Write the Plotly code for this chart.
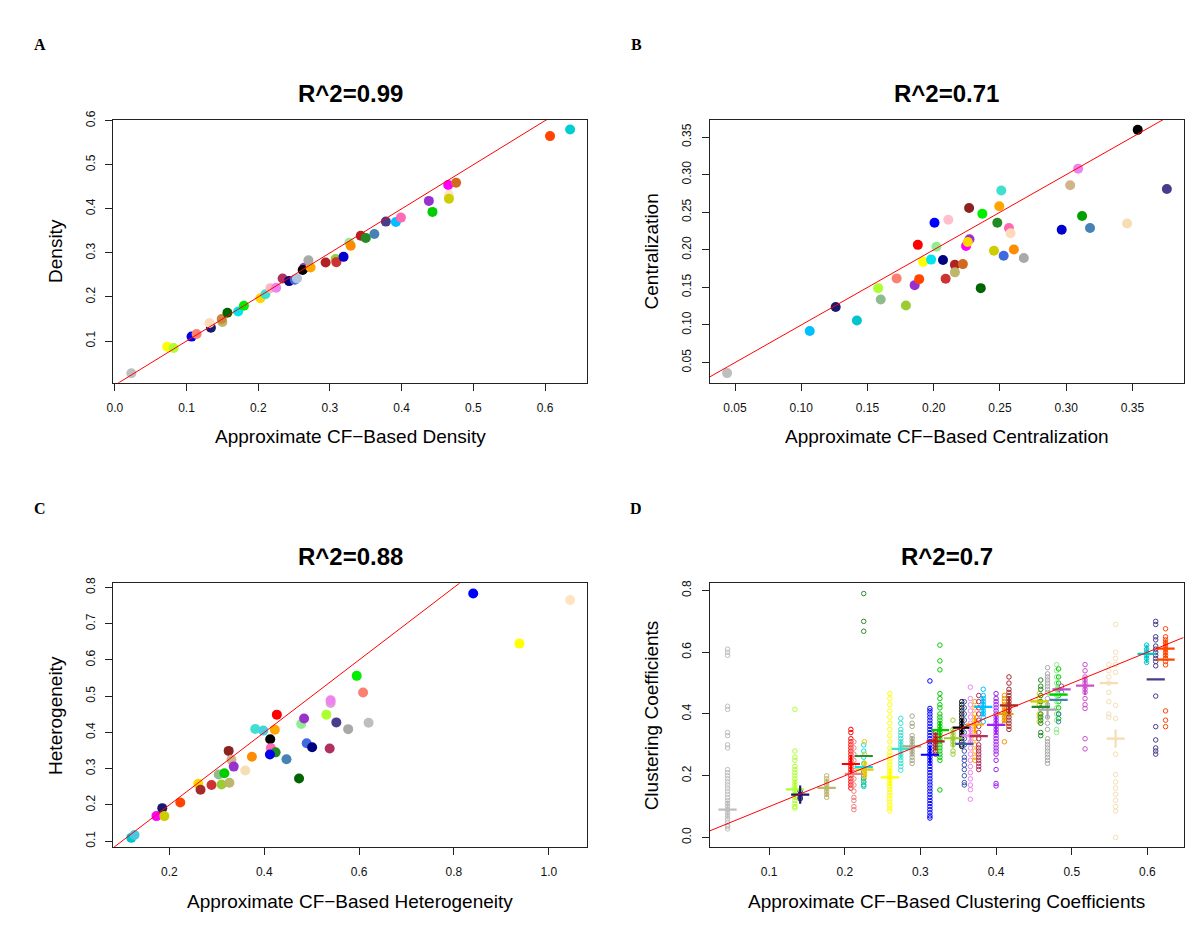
import plotly.graph_objects as go

# ---------------- Panel A : Density ----------------
a_x = [0.023, 0.073, 0.082, 0.107, 0.114, 0.134, 0.132, 0.150, 0.149, 0.157, 0.172, 0.180, 0.203, 0.210,
       0.217, 0.225, 0.234, 0.243, 0.251, 0.254, 0.264, 0.262, 0.273, 0.270, 0.294, 0.308, 0.309, 0.319,
       0.327, 0.329, 0.343, 0.350, 0.362, 0.378, 0.392, 0.399, 0.438, 0.443, 0.465, 0.476, 0.466, 0.466,
       0.607, 0.635]
a_y = [0.027, 0.087, 0.084, 0.110, 0.116, 0.130, 0.141, 0.143, 0.150, 0.164, 0.167, 0.180, 0.197, 0.206,
       0.220, 0.221, 0.242, 0.236, 0.239, 0.242, 0.266, 0.261, 0.267, 0.283, 0.278, 0.286, 0.279, 0.291,
       0.323, 0.316, 0.339, 0.334, 0.343, 0.371, 0.370, 0.380, 0.418, 0.393, 0.454, 0.459, 0.432, 0.423,
       0.565, 0.580]
a_col = ["#bfbfbf", "#ffff00", "#adff2f", "#0000ee", "#fa8072", "#191970", "#ffdab9", "#bdb76b", "#cd853f",
         "#006400", "#00e5ee", "#00ee00", "#ffd700", "#40e0d0", "#ffb6c1", "#ee82ee", "#b03060", "#000080",
         "#4169e1", "#b0c4de", "#9932cc", "#000000", "#ffa500", "#a9a9a9", "#b22222", "#9acd32", "#cd3333",
         "#0000cd", "#90ee90", "#ff8c00", "#b22222", "#228b22", "#4682b4", "#483d8b", "#00bfff", "#ff69b4",
         "#9932cc", "#00cd00", "#ff00ff", "#d2691e", "#ffe4c4", "#cdcd00", "#ff4500", "#00ced1"]

# ---------------- Panel B : Centralization ----------------
b_x = [0.044, 0.1064, 0.126, 0.142, 0.158, 0.160, 0.179, 0.172, 0.1856, 0.189, 0.188, 0.192, 0.198, 0.202,
       0.2006, 0.207, 0.211, 0.209, 0.216, 0.216, 0.222, 0.2267, 0.2244, 0.227, 0.2257, 0.2355, 0.2367,
       0.2455, 0.248, 0.251, 0.2495, 0.2528, 0.2568, 0.258, 0.2605, 0.268, 0.2966, 0.303, 0.309, 0.312,
       0.318, 0.346, 0.354, 0.376]
b_y = [0.036, 0.092, 0.124, 0.106, 0.149, 0.134, 0.126, 0.162, 0.153, 0.161, 0.2066, 0.184, 0.187, 0.204,
       0.236, 0.1865, 0.240, 0.1616, 0.180, 0.170, 0.181, 0.2556, 0.205, 0.214, 0.2105, 0.149, 0.248,
       0.1987, 0.236, 0.279, 0.258, 0.192, 0.229, 0.222, 0.2005, 0.189, 0.2267, 0.286, 0.308, 0.245,
       0.229, 0.235, 0.3596, 0.281]
b_col = ["#bebebe", "#00bfff", "#191970", "#00c5cd", "#adff2f", "#8fbc8f", "#9acd32", "#fa8072", "#9932cc",
         "#ff4500", "#ff0000", "#ffff00", "#00e5ee", "#90ee90", "#0000ff", "#000080", "#ffc0cb", "#cd3333",
         "#b22222", "#bdb76b", "#d2691e", "#8b2323", "#ff00ff", "#9932cc", "#ffd700", "#006400", "#00ee00",
         "#cdcd00", "#228b22", "#40e0d0", "#ffa500", "#4169e1", "#ff69b4", "#ffdab9", "#ff8c00", "#a9a9a9",
         "#0000cd", "#d2b48c", "#ee82ee", "#00a000", "#4682b4", "#f5deb3", "#000000", "#483d8b"]

# ---------------- Panel C : Heterogeneity ----------------
c_x = [0.1196, 0.1266, 0.1727, 0.185, 0.1895, 0.223, 0.261, 0.2657, 0.2888, 0.304, 0.316, 0.310, 0.3266,
       0.325, 0.3308, 0.3357, 0.360, 0.374, 0.381, 0.398, 0.4224, 0.4266, 0.4126, 0.414, 0.424, 0.412,
       0.4469, 0.4734, 0.478, 0.484, 0.4895, 0.501, 0.531, 0.540, 0.540, 0.538, 0.552, 0.577, 0.595, 0.6084,
       0.620, 0.8406, 0.938, 1.045]
c_y = [0.109, 0.117, 0.169, 0.191, 0.169, 0.2065, 0.258, 0.242, 0.2547, 0.2838, 0.2874, 0.2565, 0.261,
       0.349, 0.3248, 0.3056, 0.2947, 0.333, 0.4094, 0.405, 0.4075, 0.449, 0.381, 0.3566, 0.345, 0.339,
       0.3257, 0.273, 0.423, 0.4385, 0.370, 0.359, 0.449, 0.481, 0.4885, 0.3557, 0.4276, 0.409, 0.556, 0.510,
       0.4267, 0.7834, 0.645, 0.765]
c_col = ["#00c5cd", "#48c9e0", "#ff00ff", "#191970", "#cdcd00", "#ff4500", "#ffd700", "#a52a2a", "#cd3333",
         "#8fbc8f", "#00cd00", "#9acd32", "#bdb76b", "#8b2323", "#d2b48c", "#9932cc", "#f5deb3", "#ff8c00",
         "#40e0d0", "#48d1e0", "#ffa500", "#ff0000", "#000000", "#ff69b4", "#228b22", "#0000ee", "#4682b4",
         "#006400", "#90ee90", "#9932cc", "#4169e1", "#000080", "#adff2f", "#dda0dd", "#ee82ee", "#b03060",
         "#483d8b", "#a9a9a9", "#00ee00", "#fa8072", "#bebebe", "#0000ff", "#ffff00", "#ffe4c4"]

# ---------------- Panel D : Clustering coefficients ----------------
d_x = [0.045, 0.134, 0.141, 0.176, 0.208, 0.212, 0.225, 0.225, 0.226, 0.2595, 0.274, 0.289, 0.3125, 0.320,
       0.3257, 0.343, 0.3546, 0.358, 0.366, 0.372, 0.377, 0.383, 0.400, 0.411, 0.417, 0.457, 0.459, 0.468,
       0.480, 0.4826, 0.4826, 0.4865, 0.5176, 0.549, 0.558, 0.599, 0.611, 0.624]
d_col = ["#bebebe", "#adff2f", "#191970", "#bdb76b", "#ff0000", "#f08080", "#2e8b2e", "#00e5ee", "#eec900",
         "#ffff00", "#40e0d0", "#a8a88a", "#0000ff", "#b22222", "#00cd00", "#9acd32", "#000000", "#3d59ab",
         "#ee82ee", "#ffa500", "#b03060", "#00bfff", "#a020f0", "#ee9a00", "#a52a2a", "#cdcd00", "#228b22",
         "#a9a9a9", "#90ee90", "#00cd00", "#4682b4", "#b452cd", "#cd4fcd", "#f5deb3", "#f5deb3", "#00c5cd",
         "#483d8b", "#ff4500"]
d_vals = [
    [0.028, 0.035, 0.04, 0.05, 0.06, 0.07, 0.08, 0.09, 0.10, 0.11, 0.12, 0.13, 0.14, 0.15, 0.16, 0.17, 0.18,
     0.19, 0.20, 0.21, 0.22, 0.29, 0.30, 0.33, 0.34, 0.415, 0.425, 0.59, 0.60, 0.61],
    [0.095, 0.10, 0.11, 0.12, 0.13, 0.14, 0.15, 0.16, 0.17, 0.18, 0.19, 0.20, 0.21, 0.22, 0.23, 0.25, 0.26,
     0.28, 0.415],
    [0.125, 0.13, 0.14, 0.15],
    [0.13, 0.14, 0.15, 0.16, 0.17, 0.18, 0.19, 0.20],
    [0.16, 0.17, 0.18, 0.19, 0.20, 0.21, 0.22, 0.23, 0.24, 0.25, 0.26, 0.27, 0.28, 0.29, 0.30, 0.31, 0.32,
     0.34, 0.35],
    [0.09, 0.10, 0.12, 0.13, 0.15, 0.17, 0.19, 0.21, 0.23, 0.25, 0.27, 0.29, 0.31],
    [0.17, 0.18, 0.19, 0.20, 0.21, 0.668, 0.70, 0.79],
    [0.165, 0.18, 0.20, 0.22, 0.24, 0.26, 0.28, 0.30],
    [0.20, 0.21, 0.22, 0.24, 0.27, 0.31],
    [0.086, 0.095, 0.105, 0.115, 0.125, 0.135, 0.145, 0.155, 0.165, 0.175, 0.185, 0.195, 0.205, 0.215, 0.225,
     0.235, 0.245, 0.255, 0.265, 0.275, 0.29, 0.31, 0.33, 0.35, 0.37, 0.39, 0.41, 0.43, 0.45, 0.466],
    [0.218, 0.23, 0.24, 0.25, 0.26, 0.27, 0.28, 0.29, 0.30, 0.31, 0.32, 0.33, 0.34, 0.35, 0.37, 0.386],
    [0.24, 0.25, 0.26, 0.27, 0.28, 0.29, 0.30, 0.31, 0.32, 0.33, 0.36, 0.37, 0.393],
    [0.063, 0.07, 0.08, 0.09, 0.10, 0.11, 0.12, 0.13, 0.14, 0.15, 0.16, 0.17, 0.18, 0.19, 0.20, 0.21, 0.22,
     0.23, 0.24, 0.25, 0.26, 0.27, 0.28, 0.29, 0.30, 0.31, 0.32, 0.33, 0.34, 0.35, 0.36, 0.37, 0.38, 0.39,
     0.40, 0.41, 0.418, 0.507],
    [0.27, 0.28, 0.29, 0.30, 0.31, 0.32, 0.33, 0.34],
    [0.154, 0.25, 0.26, 0.27, 0.28, 0.29, 0.30, 0.31, 0.32, 0.33, 0.34, 0.35, 0.36, 0.37, 0.38, 0.39, 0.40,
     0.42, 0.43, 0.45, 0.466, 0.543, 0.572, 0.623],
    [0.27, 0.28, 0.30, 0.31, 0.32, 0.33, 0.34, 0.35, 0.38],
    [0.295, 0.30, 0.31, 0.32, 0.33, 0.34, 0.35, 0.36, 0.37, 0.38, 0.39, 0.40, 0.41, 0.42, 0.43, 0.44],
    [0.17, 0.178, 0.20, 0.22, 0.235, 0.25, 0.26, 0.28, 0.30, 0.32, 0.34, 0.36, 0.38, 0.40, 0.42, 0.44],
    [0.124, 0.155, 0.17, 0.19, 0.21, 0.23, 0.25, 0.27, 0.29, 0.31, 0.33, 0.35, 0.37, 0.39, 0.41, 0.43, 0.45,
     0.487],
    [0.25, 0.26, 0.28, 0.30, 0.32, 0.34, 0.36, 0.38, 0.40, 0.42, 0.44],
    [0.22, 0.23, 0.24, 0.25, 0.26, 0.27, 0.28, 0.29, 0.30, 0.32, 0.34, 0.36, 0.38, 0.40, 0.42, 0.44, 0.46],
    [0.375, 0.39, 0.40, 0.41, 0.42, 0.43, 0.44, 0.45, 0.46, 0.48],
    [0.167, 0.175, 0.22, 0.25, 0.27, 0.28, 0.29, 0.30, 0.31, 0.32, 0.33, 0.34, 0.35, 0.36, 0.37, 0.38, 0.39,
     0.40, 0.41, 0.42, 0.43, 0.44, 0.45, 0.466],
    [0.31, 0.37, 0.38, 0.39, 0.40, 0.41, 0.42, 0.43, 0.44, 0.45, 0.46],
    [0.35, 0.36, 0.37, 0.38, 0.39, 0.40, 0.41, 0.42, 0.43, 0.44, 0.45, 0.46, 0.47, 0.48, 0.50, 0.52],
    [0.375, 0.39, 0.40, 0.43, 0.44, 0.45, 0.466],
    [0.33, 0.34, 0.37, 0.38, 0.39, 0.40, 0.42, 0.44, 0.46, 0.48, 0.49, 0.51],
    [0.24, 0.25, 0.26, 0.27, 0.28, 0.29, 0.30, 0.31, 0.32, 0.35, 0.37, 0.39, 0.43, 0.45, 0.47, 0.48, 0.49,
     0.50, 0.51, 0.52, 0.53, 0.55],
    [0.34, 0.35, 0.38, 0.40, 0.42, 0.44, 0.46, 0.48, 0.50, 0.52, 0.54, 0.56],
    [0.385, 0.40, 0.42, 0.44, 0.46, 0.48, 0.50, 0.52, 0.546],
    [0.375, 0.40],
    [0.47, 0.49],
    [0.287, 0.32, 0.418, 0.43, 0.45, 0.47, 0.48, 0.49, 0.50, 0.51, 0.52, 0.54, 0.56],
    [0.39, 0.40, 0.44, 0.47, 0.50, 0.52, 0.54, 0.56],
    [0.0, 0.086, 0.10, 0.12, 0.14, 0.16, 0.18, 0.204, 0.27, 0.386, 0.428, 0.535, 0.56, 0.58, 0.60, 0.69],
    [0.567, 0.58, 0.59, 0.60, 0.61, 0.623],
    [0.27, 0.28, 0.29, 0.316, 0.359, 0.458, 0.556, 0.57, 0.58, 0.59, 0.60, 0.61, 0.62, 0.64, 0.65, 0.69, 0.70],
    [0.359, 0.38, 0.41, 0.559, 0.57, 0.58, 0.59, 0.60, 0.61, 0.62, 0.63, 0.64, 0.65, 0.676],
]
d_plus = [0.09, 0.156, 0.139, 0.161, 0.238, None, None, None, 0.22, 0.195, 0.287, 0.295, 0.268, 0.311,
          0.348, 0.3215, 0.356, None, 0.33, 0.366, None, 0.423, 0.365, 0.40, 0.428, None, None, 0.414,
          0.4635, None, None, None, 0.492, None, 0.32, 0.595, None, 0.612]
d_dash = [None, None, None, None, None, 0.206, 0.264, 0.228, None, None, None, None, None, None,
          None, None, None, 0.303, None, None, 0.328, None, None, None, None, 0.441, 0.423, None,
          None, 0.463, 0.446, 0.48, None, 0.50, None, None, 0.512, 0.576]

# ---------------- text ----------------
titles = ["R^2=0.99", "R^2=0.71", "R^2=0.88", "R^2=0.7"]
letters = ["A", "B", "C", "D"]
x_titles = ["Approximate CF\u2212Based Density", "Approximate CF\u2212Based Centralization",
            "Approximate CF\u2212Based Heterogeneity", "Approximate CF\u2212Based Clustering Coefficients"]
y_titles = ["Density", "Centralization", "Heterogeneity", "Clustering Coefficients"]

a_xticks = [0.0, 0.1, 0.2, 0.3, 0.4, 0.5, 0.6]
a_yticks = [0.1, 0.2, 0.3, 0.4, 0.5, 0.6]
b_xticks = [0.05, 0.10, 0.15, 0.20, 0.25, 0.30, 0.35]
b_yticks = [0.05, 0.10, 0.15, 0.20, 0.25, 0.30, 0.35]
c_xticks = [0.2, 0.4, 0.6, 0.8, 1.0]
c_yticks = [0.1, 0.2, 0.3, 0.4, 0.5, 0.6, 0.7, 0.8]
d_xticks = [0.1, 0.2, 0.3, 0.4, 0.5, 0.6]
d_yticks = [0.0, 0.2, 0.4, 0.6, 0.8]

ranges_x = [[-0.002, 0.658], [0.031, 0.3886], [0.082, 1.0797], [0.0216, 0.6478]]
ranges_y = [[0.0056, 0.602], [0.0233, 0.373], [0.0836, 0.8116], [-0.031, 0.8235]]

abline_intercept = 0.0
abline_slope = 1.0

# ---------------- layout geometry (page pixels) ----------------
OFF = 8                      # browser default body margin
W, H = 1200 - 2 * OFF, 946 - 2 * OFF
boxes = [(107, 583, 111, 377), (707, 1183.5, 111, 377), (107, 583, 580, 847), (707, 1183.5, 580, 847)]
FONT = "Liberation Sans, Arial, Helvetica, sans-serif"


def fx(p):
    return (p - OFF) / W


def fy(p):
    return 1 - (p - OFF) / H


fig = go.Figure()


def axname(i, kind):
    return kind + ("" if i == 0 else str(i + 1))


for i, (xs, ys, cs) in enumerate([(a_x, a_y, a_col), (b_x, b_y, b_col), (c_x, c_y, c_col)]):
    fig.add_trace(go.Scatter(x=xs, y=ys, mode="markers", xaxis=axname(i, "x"), yaxis=axname(i, "y"),
                             marker=dict(size=10, color=cs, line=dict(width=0)), showlegend=False,
                             hoverinfo="x+y"))

dx_all, dy_all, dc_all = [], [], []
for gx, gc, gv in zip(d_x, d_col, d_vals):
    for v in gv:
        dx_all.append(gx)
        dy_all.append(v)
        dc_all.append(gc)
fig.add_trace(go.Scatter(x=dx_all, y=dy_all, mode="markers", xaxis="x4", yaxis="y4",
                         marker=dict(symbol="circle-open", size=4.5, color=dc_all,
                                     line=dict(width=1, color=dc_all)),
                         showlegend=False))
px_, py_, pc_ = [], [], []
for gx, gc, p in zip(d_x, d_col, d_plus):
    if p is not None:
        px_.append(gx); py_.append(p); pc_.append(gc)
fig.add_trace(go.Scatter(x=px_, y=py_, mode="markers", xaxis="x4", yaxis="y4",
                         marker=dict(symbol="cross-thin", size=13, color=pc_,
                                     line=dict(width=2.2, color=pc_)), showlegend=False))
qx_, qy_, qc_ = [], [], []
for gx, gc, q in zip(d_x, d_col, d_dash):
    if q is not None:
        qx_.append(gx); qy_.append(q); qc_.append(gc)
fig.add_trace(go.Scatter(x=qx_, y=qy_, mode="markers", xaxis="x4", yaxis="y4",
                         marker=dict(symbol="line-ew", size=13, color=qc_,
                                     line=dict(width=2.2, color=qc_)), showlegend=False))

for i in range(4):
    lx = ranges_x[i]
    ly = [abline_intercept + abline_slope * v for v in lx]
    fig.add_trace(go.Scatter(x=lx, y=ly, mode="lines", xaxis=axname(i, "x"), yaxis=axname(i, "y"),
                             line=dict(color="#ff0000", width=1), showlegend=False, hoverinfo="skip"))

tick_sets = [(a_xticks, a_yticks, "{:.1f}", "{:.1f}"), (b_xticks, b_yticks, "{:.2f}", "{:.2f}"),
             (c_xticks, c_yticks, "{:.1f}", "{:.1f}"), (d_xticks, d_yticks, "{:.1f}", "{:.1f}")]

layout = dict(width=W, height=H, margin=dict(l=0, r=0, t=0, b=0), paper_bgcolor="white",
              plot_bgcolor="white", showlegend=False, annotations=[])
common = dict(showline=True, mirror=True, linecolor="#222", linewidth=1, ticks="outside", ticklen=7,
              tickwidth=1, tickcolor="#222", showgrid=False, zeroline=False, tickmode="array",
              tickfont=dict(family=FONT, size=12, color="#111"))
for i in range(4):
    l, r, t, b = boxes[i]
    xt, yt, fmx, fmy = tick_sets[i]
    xa = dict(common, domain=[fx(l), fx(r)], range=ranges_x[i], anchor=axname(i, "y"),
              tickvals=xt, ticktext=[fmx.format(v) for v in xt], ticklabelstandoff=7)
    ya = dict(common, domain=[fy(b), fy(t)], range=ranges_y[i], anchor=axname(i, "x"),
              tickvals=yt, ticktext=[fmy.format(v) for v in yt], tickangle=-90, ticklabelstandoff=6)
    layout["xaxis" + ("" if i == 0 else str(i + 1))] = xa
    layout["yaxis" + ("" if i == 0 else str(i + 1))] = ya
    cx = (l + r) / 2
    cy = (t + b) / 2
    ann = layout["annotations"]
    ann.append(dict(text="<b>" + titles[i] + "</b>", x=fx(cx), y=fy(t - 27), xref="paper",
                    yref="paper", showarrow=False, xanchor="center", yanchor="middle",
                    font=dict(family=FONT, size=24, color="#000")))
    ann.append(dict(text="<b>" + letters[i] + "</b>", x=fx(l - 74), y=fy(t - 76), xref="paper",
                    yref="paper", showarrow=False, xanchor="center", yanchor="middle",
                    font=dict(family="Liberation Serif, Times New Roman, serif", size=16, color="#000")))
    ann.append(dict(text=x_titles[i], x=fx(cx), y=fy(b + 55), xref="paper", yref="paper",
                    showarrow=False, xanchor="center", yanchor="middle",
                    font=dict(family=FONT, size=19, color="#000")))
    ann.append(dict(text=y_titles[i], x=fx(l - 59), y=fy(cy), xref="paper", yref="paper",
                    showarrow=False, xanchor="center", yanchor="middle", textangle=-90,
                    font=dict(family=FONT, size=19, color="#000")))

fig.update_layout(**layout)
fig.write_html("out.html")
